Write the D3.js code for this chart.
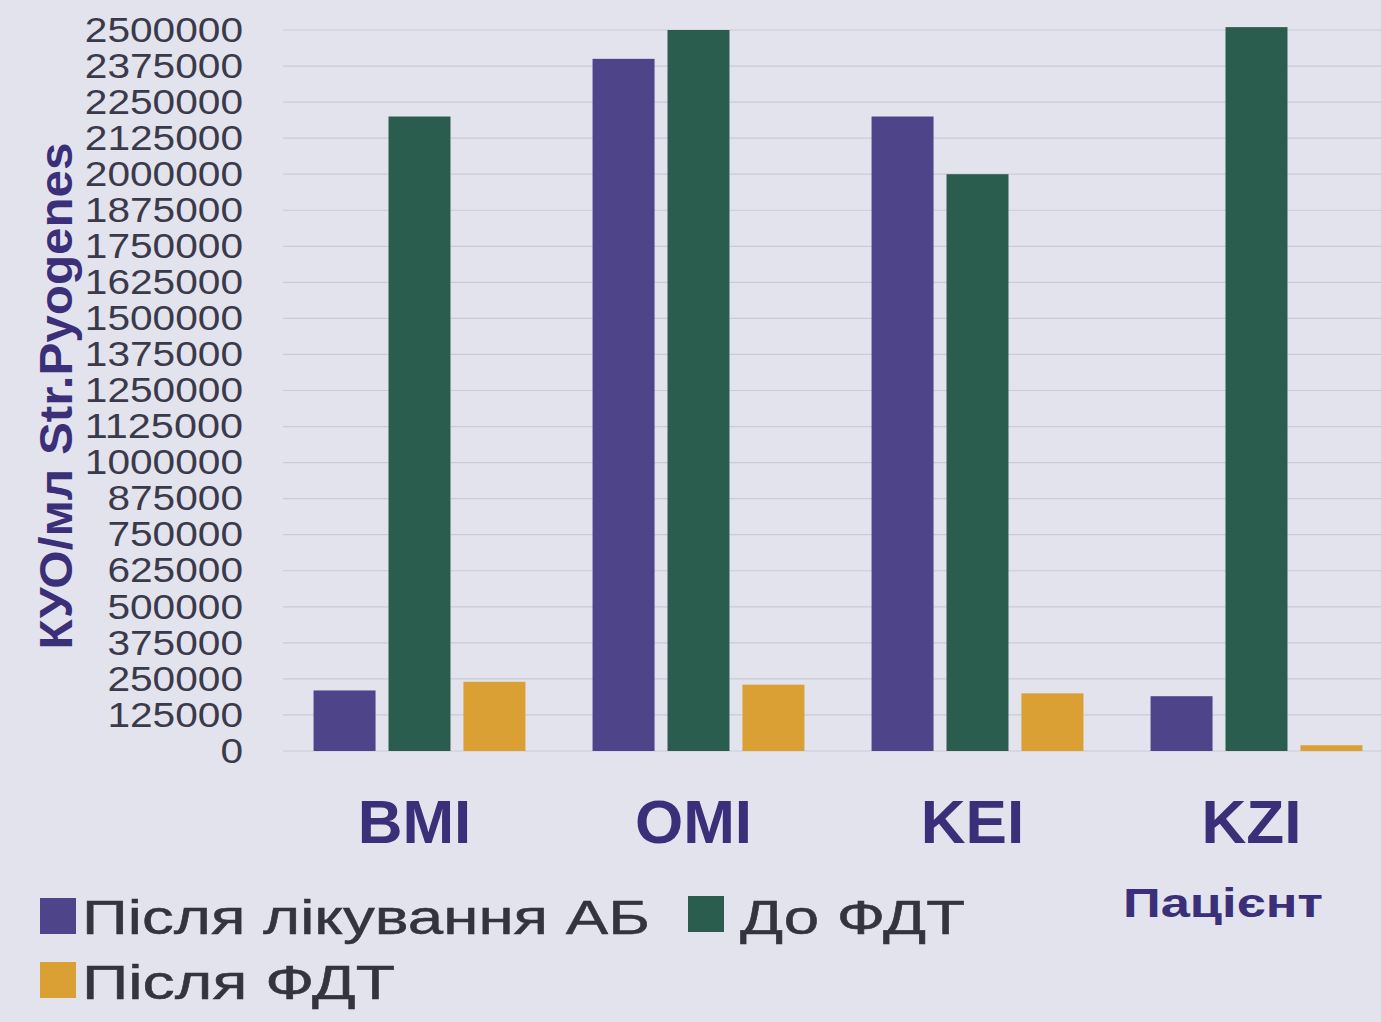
<!DOCTYPE html>
<html>
<head>
<meta charset="utf-8">
<script src="https://cdn.jsdelivr.net/npm/d3@7"></script>
<style>
  html, body { margin: 0; padding: 0; background: #e3e3ee; }
  svg { display: block; }
  text { font-family: "Liberation Sans", Arial, sans-serif; }
</style>
</head>
<body>
<svg id="chart" width="1381" height="1022"></svg>
<script>
// Patients (x categories)
const patients = ["BMI", "OMI", "KEI", "KZI"];

// Series names and values, CFU/ml of Str. pyogenes
const seriesNames = ["Після лікування АБ", "До ФДТ", "Після ФДТ"];
const afterAB  = [210000, 2400000, 2200000, 190000];
const beforePDT = [2200000, 2500000, 2000000, 2510000];
const afterPDT = [240000, 230000, 200000, 20000];
const seriesColors = ["#4e4489", "#2b5d4f", "#dba034"];

// Y axis ticks
const yTicks = d3.range(0, 2500001, 125000);

const seriesValues = [afterAB, beforePDT, afterPDT];

const svg = d3.select("#chart");
const W = 1381, H = 1022;

svg.append("rect").attr("width", W).attr("height", H).attr("fill", "#e3e3ee");

const plotLeft = 280, plotRight = 1396, gridLeft = 283, gridRight = 1381;
const yBottom = 751, yTop = 30;

const y = d3.scaleLinear().domain([0, 2500000]).range([yBottom, yTop]);

const x0 = d3.scaleBand().domain(patients).range([plotLeft, plotRight])
  .paddingInner(0.194).paddingOuter(0.097);
const x1 = d3.scaleBand().domain(d3.range(seriesNames.length)).range([0, x0.bandwidth()])
  .paddingInner(0.173).paddingOuter(0.0867);

// stretch a text element horizontally to a given width
function fit(sel, width) {
  sel.attr("textLength", width).attr("lengthAdjust", "spacingAndGlyphs");
}

// Gridlines
svg.append("g").selectAll("line").data(yTicks).join("line")
  .attr("x1", gridLeft).attr("x2", gridRight)
  .attr("y1", d => y(d)).attr("y2", d => y(d))
  .attr("stroke", "#cacbd6").attr("stroke-width", 1.2);

// Y axis labels
const yAxis = svg.append("g").attr("transform", "translate(243,0)")
  .call(d3.axisLeft(y).tickValues(yTicks).tickSize(0).tickPadding(0).tickFormat(d3.format("d")));
yAxis.select(".domain").remove();
yAxis.selectAll("text")
  .attr("font-family", "Liberation Sans, Arial, sans-serif")
  .attr("font-size", 35)
  .attr("fill", "#3a3a4a")
  .each(function(d) {
    const n = String(d).length;
    fit(d3.select(this), n * 22.6);
  });

// Bars
const groups = svg.append("g").selectAll("g").data(patients).join("g")
  .attr("transform", d => `translate(${x0(d)},0)`);
groups.selectAll("rect")
  .data((p, i) => seriesValues.map((vals, s) => ({ s, v: vals[i] })))
  .join("rect")
  .attr("x", d => x1(d.s))
  .attr("width", x1.bandwidth())
  .attr("y", d => y(d.v))
  .attr("height", d => y(0) - y(d.v))
  .attr("fill", d => seriesColors[d.s]);

// Category labels
svg.append("g").selectAll("text").data(patients).join("text")
  .attr("x", d => x0(d) + x0.bandwidth() / 2 - 5)
  .attr("y", 843)
  .attr("text-anchor", "middle")
  .attr("font-size", 62)
  .attr("font-weight", "bold")
  .attr("fill", "#3a2f78")
  .text(d => d);

// Y axis title
svg.append("text")
  .attr("transform", "translate(72,396) rotate(-90)")
  .attr("text-anchor", "middle")
  .attr("font-size", 46)
  .attr("font-weight", "bold")
  .attr("fill", "#3a2f78")
  .text("КУО/мл Str.Pyogenes")
  .call(fit, 507);

// X axis title
svg.append("text")
  .attr("x", 1123).attr("y", 917)
  .attr("font-size", 40)
  .attr("font-weight", "bold")
  .attr("fill", "#3a2f78")
  .text("Пацієнт")
  .call(fit, 200);

// Legend
const legendPos = [
  { sx: 40, sy: 898, tx: 82, ty: 934, tw: 568 },
  { sx: 688, sy: 896, tx: 740, ty: 934, tw: 225 },
  { sx: 40, sy: 962, tx: 82, ty: 999, tw: 313 }
];
const legend = svg.append("g").selectAll("g").data(seriesNames).join("g");
legend.append("rect")
  .attr("x", (d, i) => legendPos[i].sx)
  .attr("y", (d, i) => legendPos[i].sy)
  .attr("width", 36).attr("height", 36)
  .attr("fill", (d, i) => seriesColors[i]);
legend.append("text")
  .attr("x", (d, i) => legendPos[i].tx)
  .attr("y", (d, i) => legendPos[i].ty)
  .attr("font-size", 48)
  .attr("fill", "#34343f")
  .attr("stroke", "#34343f")
  .attr("stroke-width", 0.5)
  .text(d => d)
  .each(function(d, i) { fit(d3.select(this), legendPos[i].tw); });
</script>
</body>
</html>
